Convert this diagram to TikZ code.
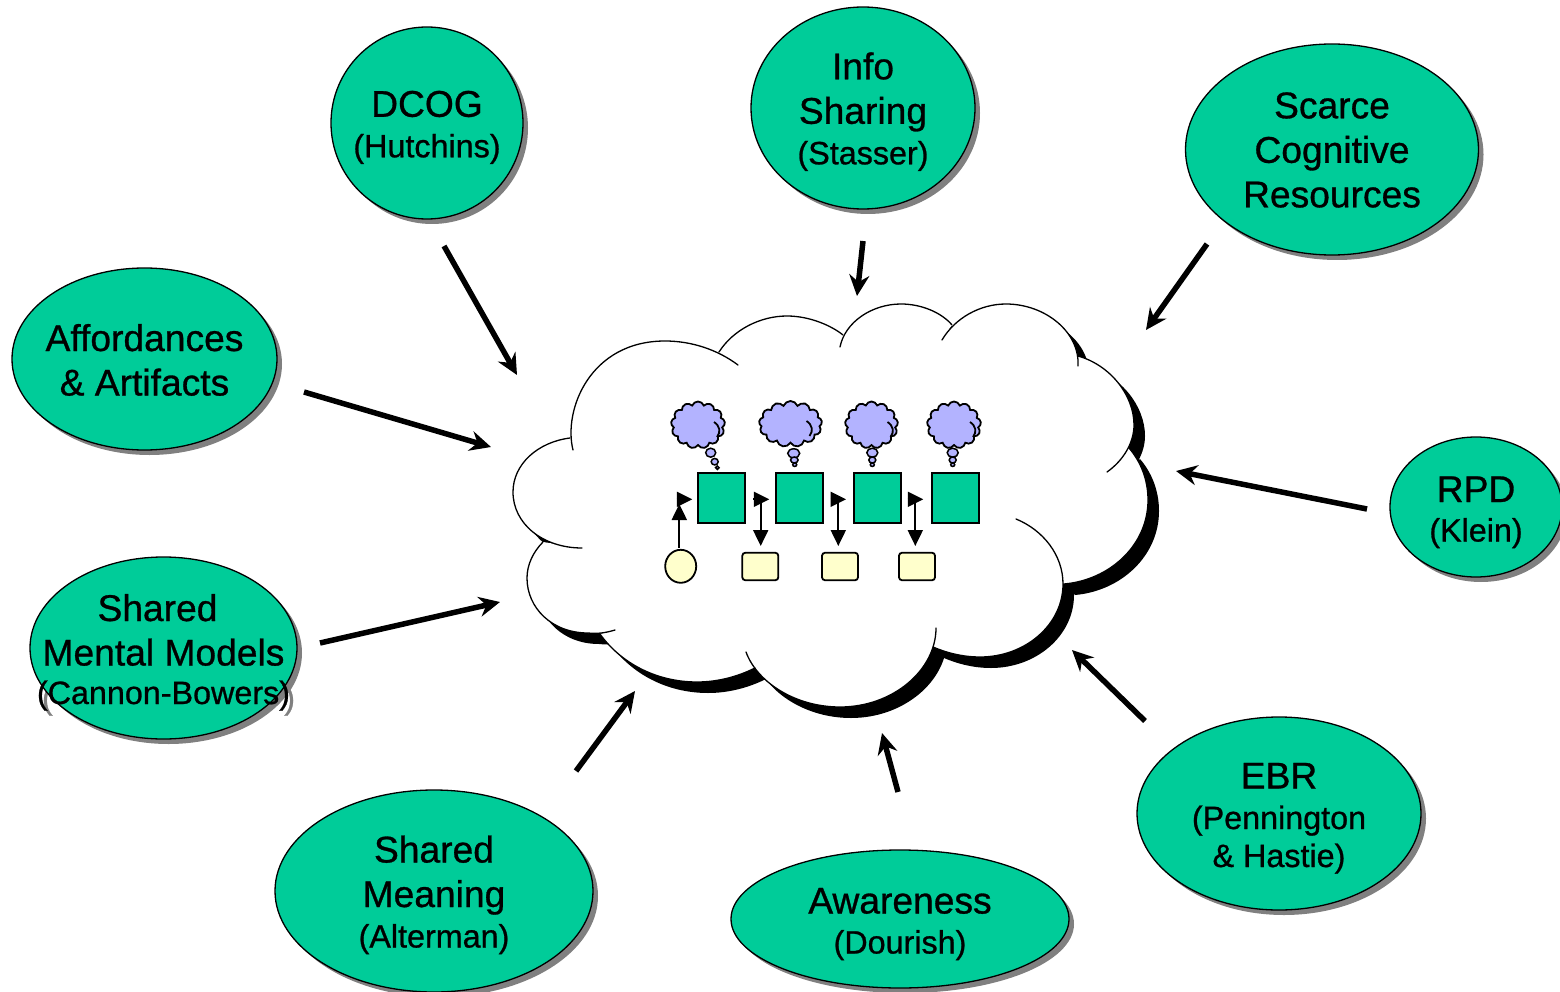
\documentclass[tikz,border=0pt]{standalone}
\usepackage{fontspec}
\setmainfont{Liberation Sans}[FakeBold=0.8]
\usetikzlibrary{arrows.meta,shapes.geometric,shapes.symbols}
\definecolor{teamgreen}{HTML}{00CC99}
\definecolor{softyellow}{HTML}{FFFFCC}
\definecolor{thoughtblue}{HTML}{B3B3FF}
\definecolor{dropgray}{HTML}{808080}
\newcommand{\bigt}{\fontsize{37.2}{44.5}\selectfont}
\newcommand{\smallt}{\fontsize{32.3}{38}\selectfont}
\def\silhouette{(573,450) .. controls (563,410) and (590,341) .. (665,341) .. controls (692,341) and (718,350) .. (738,365)
 -- (719,352) .. controls (733,330) and (760,316) .. (787,316) .. controls (810,316) and (832,326) .. (843,335)
 -- (840,347) .. controls (845,322) and (872,304) .. (901,304) .. controls (922,304) and (942,313) .. (952,325)
 -- (942,340) .. controls (955,318) and (980,304) .. (1006,304) .. controls (1045,304) and (1080,332) .. (1078,366)
 -- (1078,356) .. controls (1110,365) and (1134,395) .. (1134,425) .. controls (1134,442) and (1124,460) .. (1107,472)
 -- (1129,448) .. controls (1141,462) and (1148,480) .. (1148,500) .. controls (1148,545) and (1110,580) .. (1064,584)
 -- (1016,519) .. controls (1043,530) and (1063,555) .. (1063,584) .. controls (1063,625) and (1025,657) .. (980,657) .. controls (963,657) and (947,653) .. (933,647)
 -- (936,628) .. controls (936,670) and (893,707) .. (840,707) .. controls (795,707) and (757,682) .. (746,652)
 -- (755,668) .. controls (737,677) and (717,682) .. (697,682) .. controls (655,682) and (620,662) .. (600,634)
 -- (615,630) .. controls (605,633) and (597,634) .. (588,633) .. controls (552,633) and (527,608) .. (527,578) .. controls (527,565) and (533,552) .. (543,542)
 -- (582,548) .. controls (543,548) and (513,524) .. (513,492) .. controls (513,464) and (538,442) .. (570,438) -- cycle}
\tikzset{
  topic/.style={ellipse,draw=black,line width=1.3pt,fill=teamgreen,inner sep=0pt},
  topictext/.style={align=center,inner sep=0pt,font=\bigt,anchor=base},
  drop/.style={fill=dropgray},
  bigarrow/.style={line width=5.5pt,-{Stealth[length=21pt,width=20pt,inset=7pt]}},
  lobe/.style={line width=1.3pt,line cap=round},
  agent/.style={rectangle,draw=black,line width=2pt,fill=teamgreen,minimum width=47pt,minimum height=50pt,inner sep=0pt},
  artifact/.style={rectangle,rounded corners=3pt,draw=black,line width=1.8pt,fill=softyellow,minimum width=36pt,minimum height=27.5pt,inner sep=0pt},
  source/.style={ellipse,draw=black,line width=1.8pt,fill=softyellow,minimum width=31pt,minimum height=33pt,inner sep=0pt},
  thought/.style={cloud,cloud puffs=13,cloud puff arc=140,aspect=1.15,draw=black,line width=1.8pt,fill=thoughtblue,inner sep=0pt},
  bubble/.style={ellipse,draw=black,line width=1.5pt,fill=thoughtblue,inner sep=0pt},
  smallarrow/.style={line width=2pt,-{Triangle[length=16pt,width=15pt]}},
  flag/.style={line width=2pt,-{Triangle[length=15.5pt,width=15pt]}}
}
\begin{document}
\begin{tikzpicture}[x=1pt,y=-1pt]
\useasboundingbox (0,0) rectangle (1560,992);
% central cloud
\fill[black,shift={(11,11)}] \silhouette;
\fill[white] \silhouette;
\draw[lobe] (573,450) .. controls (563,410) and (590,341) .. (665,341) .. controls (692,341) and (718,350) .. (738,365);
\draw[lobe] (719,352) .. controls (733,330) and (760,316) .. (787,316) .. controls (810,316) and (832,326) .. (843,335);
\draw[lobe] (840,347) .. controls (845,322) and (872,304) .. (901,304) .. controls (922,304) and (942,313) .. (952,325);
\draw[lobe] (942,340) .. controls (955,318) and (980,304) .. (1006,304) .. controls (1045,304) and (1080,332) .. (1078,366);
\draw[lobe] (1078,356) .. controls (1110,365) and (1134,395) .. (1134,425) .. controls (1134,442) and (1124,460) .. (1107,472);
\draw[lobe] (1129,448) .. controls (1141,462) and (1148,480) .. (1148,500) .. controls (1148,545) and (1110,580) .. (1064,584);
\draw[lobe] (1016,519) .. controls (1043,530) and (1063,555) .. (1063,584) .. controls (1063,625) and (1025,657) .. (980,657) .. controls (963,657) and (947,653) .. (933,647);
\draw[lobe] (936,628) .. controls (936,670) and (893,707) .. (840,707) .. controls (795,707) and (757,682) .. (746,652);
\draw[lobe] (755,668) .. controls (737,677) and (717,682) .. (697,682) .. controls (655,682) and (620,662) .. (600,634);
\draw[lobe] (615,630) .. controls (605,633) and (597,634) .. (588,633) .. controls (552,633) and (527,608) .. (527,578) .. controls (527,565) and (533,552) .. (543,542);
\draw[lobe] (582,548) .. controls (543,548) and (513,524) .. (513,492) .. controls (513,464) and (538,442) .. (570,438);
% topic ellipses with drop shadows
\foreach \cx/\cy/\rx/\ry in {427/123/96/96,863/108/112/101,1332/149.5/146.5/105.5,144.5/359/132.5/91,1476/507/86/70,163.5/648/133.5/91,434/891/159/101,900/919/169/69,1279/813.5/142/96.5}
  \fill[drop] (\cx+5,\cy+5) ellipse ({\rx} and {\ry});
\node[text=dropgray,inner sep=0pt,anchor=base] (smmdrop) at (168.5,709) {\smallt (\phantom{Cannon-Bowers})};
\node[topic,minimum width=192pt,minimum height=192pt] (dcog) at (427,123) {};
\node[topic,minimum width=224pt,minimum height=202pt] (info) at (863,108) {};
\node[topic,minimum width=293pt,minimum height=211pt] (scarce) at (1332,149.5) {};
\node[topic,minimum width=265pt,minimum height=182pt] (afford) at (144.5,359) {};
\node[topic,minimum width=172pt,minimum height=140pt] (rpd) at (1476,507) {};
\node[topic,minimum width=267pt,minimum height=182pt] (smm) at (163.5,648) {};
\node[topic,minimum width=318pt,minimum height=202pt] (meaning) at (434,891) {};
\node[topic,minimum width=338pt,minimum height=138pt] (aware) at (900,919) {};
\node[topic,minimum width=284pt,minimum height=193pt] (ebr) at (1279,813.5) {};
\node[topictext] (dcogT) at (427,157.3) {DCOG\\[-4pt]\smallt (Hutchins)};
\node[topictext] (infoT) at (863,164.3) {Info\\Sharing\\[-4pt]\smallt (Stasser)};
\node[topictext] (scarceT) at (1332,207.3) {Scarce\\Cognitive\\Resources};
\node[topictext] (affordT) at (144.5,395.5) {Affordances\\\& Artifacts};
\node[topictext] (rpdT) at (1476,541.5) {RPD\\[-5pt]\smallt (Klein)};
\node[topictext] (smmT) at (163.5,704) {Shared\hspace*{12pt}\\Mental Models\\[-6pt]\smallt (Cannon-Bowers)};
\node[topictext] (meaningT) at (434,947.5) {Shared\\Meaning\\[-4pt]\smallt (Alterman)};
\node[topictext] (awareT) at (900,953.5) {Awareness\\[-4.5pt]\smallt (Dourish)};
\node[topictext] (ebrT) at (1279,867) {EBR\\[-4pt]\smallt (Pennington\\[-6.5pt]\smallt \& Hastie)};
% influence arrows
\coordinate (dcogA) at (444,246); \coordinate (dcogB) at (517,375);
\coordinate (infoA) at (863,241); \coordinate (infoB) at (857,296);
\coordinate (scarceA) at (1207,244); \coordinate (scarceB) at (1146,330);
\coordinate (affordA) at (304,392); \coordinate (affordB) at (491,447);
\coordinate (rpdA) at (1367,509); \coordinate (rpdB) at (1176,471);
\coordinate (smmA) at (320,643); \coordinate (smmB) at (500,602);
\coordinate (meaningA) at (576,771); \coordinate (meaningB) at (635,691);
\coordinate (awareA) at (898,792); \coordinate (awareB) at (882,733);
\coordinate (ebrA) at (1145,721); \coordinate (ebrB) at (1072,650);
\foreach \n in {dcog,info,scarce,afford,rpd,smm,meaning,aware,ebr}
  \draw[bigarrow] (\n A) -- (\n B);
% thought clouds
\node[thought,minimum width=54pt,minimum height=47pt] (t1) at (698,425) {};
\node[thought,minimum width=63pt,minimum height=46pt] (t2) at (790.5,424) {};
\node[thought,minimum width=53pt,minimum height=47pt] (t3) at (871.5,425) {};
\node[thought,minimum width=54pt,minimum height=47pt] (t4) at (954,425) {};
\foreach \tn/\tx/\ty in {t1/698/425,t2/790.5/424,t3/871.5/425,t4/954/425}
  \draw[line width=1.8pt,shift={(\tx,\ty)}] (16,-3) .. controls (22,1) and (23,7) .. (19,12);
\foreach \bx/\by/\bw/\bh/\bn in {710.7/452.7/10/9/a1,714.7/461.7/7/6.5/b1,717.3/467.7/3.5/3.5/c1,793.7/453.3/12/9/a2,794.3/460/7.5/6/b2,794.7/464.7/4/3.5/c2,872.3/452.7/11/9/a3,872.3/460/7/6/b3,872.3/464.7/4/3.5/c3,952.7/452.7/11/9/a4,952.7/460/7/6/b4,952.7/464.7/4/3.5/c4}
  \node[bubble,minimum width=\bw pt,minimum height=\bh pt] (\bn) at (\bx,\by) {};
% team members
\node[agent] (m1) at (721.8,498.2) {};
\node[agent] (m2) at (799.5,498.2) {};
\node[agent] (m3) at (877.5,498.2) {};
\node[agent] (m4) at (955.6,498.2) {};
\node[source] (s0) at (680.7,566.3) {};
\node[artifact] (s1) at (760.3,566.5) {};
\node[artifact] (s2) at (840,566.5) {};
\node[artifact] (s3) at (917,566.5) {};
% flow arrows
\coordinate (f1a) at (676.7,499.3); \coordinate (f1b) at (692.3,499.3);
\coordinate (f2a) at (753.3,499.3); \coordinate (f2b) at (769.3,499.3);
\coordinate (f3a) at (830.7,499.3); \coordinate (f3b) at (846,499.3);
\coordinate (f4a) at (907.7,499.3); \coordinate (f4b) at (923.3,499.3);
\foreach \i in {1,2,3,4} \draw[flag] (f\i a) -- (f\i b);
\coordinate (u0a) at (679.3,547.7); \coordinate (u0b) at (679.3,504);
\draw[smallarrow] (u0a) -- (u0b);
\coordinate (d1a) at (760.7,499.7); \coordinate (d1b) at (760.7,546);
\coordinate (d2a) at (838.3,499.7); \coordinate (d2b) at (838.3,546);
\coordinate (d3a) at (915.3,499.7); \coordinate (d3b) at (915.3,546);
\foreach \i in {1,2,3} \draw[smallarrow] (d\i a) -- (d\i b);
\end{tikzpicture}
\end{document}
